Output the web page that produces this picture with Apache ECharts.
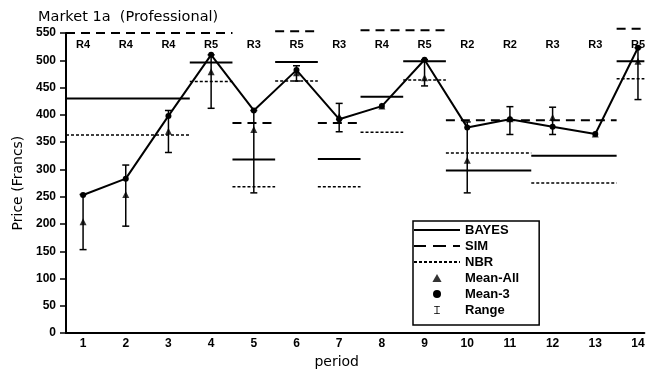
<!DOCTYPE html>
<html>
<head>
<meta charset="utf-8">
<script src="https://cdn.jsdelivr.net/npm/echarts@6/dist/echarts.min.js"></script>
<style>
  html, body { margin: 0; padding: 0; background: #fff; }
  #chart { width: 648px; height: 374px; }
</style>
</head>
<body>
<div id="chart"></div>
<script>
// Market 1a (Professional): observed prices per period against model predictions

const periods = [1, 2, 3, 4, 5, 6, 7, 8, 9, 10, 11, 12, 13, 14];
const regimes = ['R4', 'R4', 'R4', 'R5', 'R3', 'R5', 'R3', 'R4', 'R5', 'R2', 'R2', 'R3', 'R3', 'R5'];

// Mean of the last three trades and of all trades, per period
const mean3   = [253, 283, 398, 510, 408, 482, 392, 416, 501, 377, 392, 378, 365, 523];
const meanAll = [204, 254, 370, 479, 373, 477, 397, 416, 468, 317, 393, 395, 365, 498];

// Price range per period (null where no spread was traded)
const rangeLow  = [153, 196, 331, 412, 257, 462, 369, null, 453, 257, 364, 364, null, 428];
const rangeHigh = [254, 308, 408, 510, 408, 490, 421, null, 501, 387, 415, 414, null, 523];

// Model predictions: [first period, last period, price]
const bayesPred = [[1, 3, 430], [4, 4, 496], [5, 5, 318], [6, 6, 497], [7, 7, 319],
                   [8, 8, 433], [9, 9, 498], [10, 11, 298], [12, 13, 325], [14, 14, 498]];
const simPred   = [[1, 4, 550], [5, 5, 385], [6, 6, 553], [7, 7, 385], [8, 9, 555],
                   [10, 13, 390], [14, 14, 558]];
const nbrPred   = [[1, 3, 363], [4, 4, 461], [5, 5, 268], [6, 6, 462], [7, 7, 268],
                   [8, 8, 368], [9, 9, 464], [10, 11, 330], [12, 13, 275], [14, 14, 466]];

const yTicks = [0, 50, 100, 150, 200, 250, 300, 350, 400, 450, 500, 550];

const X_MIN = 0.6, X_MAX = 14.15;
const FONT = 'DejaVu Sans';
const BOLD_FONT = 'Liberation Sans';

// Turn [from, to, value] steps into a broken line: each step spans its periods ±0.5
function stepData(steps) {
  const out = [];
  steps.forEach(([a, b, v], i) => {
    if (i > 0) out.push(['-', '-']);
    out.push([Math.max(a - 0.5, X_MIN), v]);
    out.push([Math.min(b + 0.5, X_MAX), v]);
  });
  return out;
}

// Legend swatches built from filled bars so that dash patterns stay visible
function barPath(runs) {
  return 'path://' + runs.map(([x0, x1]) => `M${x0},0H${x1}V2H${x0}Z`).join(' ');
}
const solidIcon  = barPath([[0, 46]]);
const dashedIcon = barPath([[0, 12], [19, 32], [39, 46]]);
const dotRuns = [];
for (let x = 0; x < 46; x += 5) dotRuns.push([x, Math.min(x + 3, 46)]);
const dottedIcon = barPath(dotRuns);
const triangleIcon = 'path://M0,7L4,0L8,7Z';
const rangeIcon = 'path://M0,0H10V1.5H5.75V12.5H10V14H0V12.5H4.25V1.5H0Z';

const rangeData = [];
periods.forEach((p, i) => {
  if (rangeLow[i] != null && rangeHigh[i] != null) rangeData.push([p, rangeLow[i], rangeHigh[i]]);
});

const chart = echarts.init(document.getElementById('chart'), null, { renderer: 'canvas' });

chart.setOption({
  animation: false,
  backgroundColor: '#fff',
  title: {
    text: 'Market 1a  (Professional)',
    left: 38, top: 10, padding: 0,
    textStyle: { fontFamily: FONT, fontSize: 14.5, fontWeight: 'normal', color: '#000' }
  },
  grid: { left: 66, right: 0, top: 33, bottom: 40 },
  legend: {
    orient: 'vertical',
    left: 413, top: 221,
    padding: [2, 20, 8, 1],
    itemWidth: 46, itemHeight: 8, itemGap: 2,
    borderColor: '#000', borderWidth: 1.5,
    selectedMode: false,
    textStyle: { fontFamily: BOLD_FONT, fontWeight: 'bold', fontSize: 13, lineHeight: 14, color: '#000' },
    itemStyle: { color: '#000' },
    data: [
      { name: 'BAYES', icon: solidIcon },
      { name: 'SIM', icon: dashedIcon },
      { name: 'NBR', icon: dottedIcon },
      { name: 'Mean-All', icon: triangleIcon },
      { name: 'Mean-3', icon: 'circle' },
      { name: 'Range', icon: rangeIcon }
    ]
  },
  xAxis: [
    {
      type: 'value', min: X_MIN, max: X_MAX,
      name: 'period', nameLocation: 'middle', nameGap: 20,
      nameTextStyle: { fontFamily: FONT, fontSize: 14, color: '#000', padding: [0, 37, 0, 0] },
      axisLine: { show: true, onZero: false, lineStyle: { color: '#000', width: 2 } },
      axisTick: { show: false },
      splitLine: { show: false },
      axisLabel: {
        customValues: periods, margin: 5,
        fontFamily: BOLD_FONT, fontWeight: 'bold', fontSize: 12, color: '#000'
      }
    },
    {
      type: 'value', min: X_MIN, max: X_MAX, position: 'top',
      axisLine: { show: false }, axisTick: { show: false }, splitLine: { show: false },
      axisLabel: {
        customValues: periods, inside: true, margin: 6,
        formatter: v => regimes[periods.indexOf(v)],
        fontFamily: BOLD_FONT, fontWeight: 'bold', fontSize: 11, color: '#000'
      }
    }
  ],
  yAxis: {
    type: 'value', min: 0, max: 550, interval: 50,
    name: 'Price (Francs)', nameLocation: 'middle', nameGap: 40,
    nameTextStyle: { fontFamily: FONT, fontSize: 14, color: '#000' },
    axisLine: { show: true, lineStyle: { color: '#000', width: 2 } },
    axisTick: { show: true, length: 6, lineStyle: { color: '#000', width: 1.5 } },
    splitLine: { show: false },
    axisLabel: {
      customValues: yTicks, margin: 10,
      fontFamily: BOLD_FONT, fontWeight: 'bold', fontSize: 12, color: '#000'
    }
  },
  series: [
    {
      name: 'BAYES', type: 'line', data: stepData(bayesPred), clip: false,
      symbol: 'none', connectNulls: false, z: 3,
      lineStyle: { color: '#000', width: 2, type: 'solid' },
      itemStyle: { color: '#000' }
    },
    {
      name: 'SIM', type: 'line', data: stepData(simPred), clip: false,
      symbol: 'none', connectNulls: false, z: 3,
      lineStyle: { color: '#000', width: 2, type: [9, 6] },
      itemStyle: { color: '#000' }
    },
    {
      name: 'NBR', type: 'line', data: stepData(nbrPred), clip: false,
      symbol: 'none', connectNulls: false, z: 3,
      lineStyle: { color: '#000', width: 1.5, type: [3, 2] },
      itemStyle: { color: '#000' }
    },
    {
      name: 'Range', type: 'custom', z: 4, clip: false,
      data: rangeData,
      encode: { x: 0, y: [1, 2] },
      itemStyle: { color: '#000' },
      renderItem: (params, api) => {
        const x = api.value(0);
        const lo = api.coord([x, api.value(1)]);
        const hi = api.coord([x, api.value(2)]);
        const cap = 3.5;
        const style = { stroke: '#000', lineWidth: 1.5 };
        return {
          type: 'group',
          children: [
            { type: 'line', shape: { x1: lo[0], y1: lo[1], x2: hi[0], y2: hi[1] }, style },
            { type: 'line', shape: { x1: lo[0] - cap, y1: lo[1], x2: lo[0] + cap, y2: lo[1] }, style },
            { type: 'line', shape: { x1: hi[0] - cap, y1: hi[1], x2: hi[0] + cap, y2: hi[1] }, style }
          ]
        };
      }
    },
    {
      name: 'Mean-All', type: 'scatter', z: 5,
      data: periods.map((p, i) => [p, meanAll[i]]),
      symbol: 'triangle', symbolSize: 7,
      itemStyle: { color: '#000' }
    },
    {
      name: 'Mean-3', type: 'line', z: 6,
      data: periods.map((p, i) => [p, mean3[i]]),
      symbol: 'circle', symbolSize: 6, showSymbol: true,
      lineStyle: { color: '#000', width: 2 },
      itemStyle: { color: '#000' }
    }
  ]
});
</script>
</body>
</html>
